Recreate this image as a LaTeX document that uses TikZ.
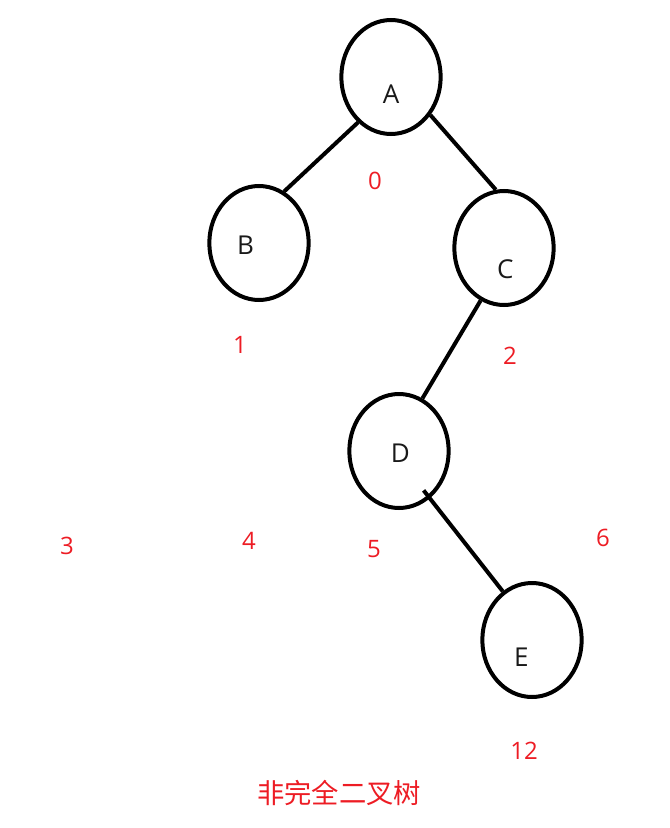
\documentclass[tikz,border=0pt]{standalone}
\usepackage{fontspec}
\setmainfont{Open Sans}
\newfontfamily\cjkfont{Noto Sans CJK SC}
\usepackage{xcolor}
\usepackage{tikz}
\usetikzlibrary{shapes.geometric, calc}
\definecolor{idxred}{RGB}{237,28,36}

\begin{document}
\begin{tikzpicture}[
  x=0.75pt, y=-0.75pt,
  treenode/.style={draw=black, ellipse, line width=3pt, minimum width=74.5pt,
                   minimum height=85.5pt, inner sep=0pt},
  letter/.style={font=\fontsize{19.5}{19.5}\selectfont, text=black!90},
  idx/.style={font=\fontsize{18}{18}\selectfont, text=idxred},
  edge/.style={line width=3pt, black}
]
  \useasboundingbox (0,0) rectangle (669,828);

  % --- Tree nodes ---
  \node[treenode, label={[letter, shift={(0pt,-13pt)}]center:A}] (A) at (391,77) {};
  \node[treenode, label={[letter, shift={(-10pt,-2pt)}]center:B}] (B) at (259,243) {};
  \node[treenode, label={[letter, shift={(1pt,-16pt)}]center:C}] (C) at (504,248) {};
  \node[treenode, label={[letter, shift={(1pt,-2pt)}]center:D}] (D) at (399,451) {};
  \node[treenode, label={[letter, shift={(-8pt,-13pt)}]center:E}] (E) at (532,640) {};

  % --- Edges ---
  \draw[edge] (A.234) -- (B.64);
  \draw[edge] (A.316) -- (C.98);
  \draw[edge] (C.246) -- (D.66);
  \draw[edge] ($(D.center)!0.82!(D.302)$) -- (E.121);

  % --- Array indices ---
  \node[idx] (i0)  at (375,181) {0};
  \node[idx] (i1)  at (240,345) {1};
  \node[idx] (i2)  at (510,356) {2};
  \node[idx] (i3)  at (67,546)  {3};
  \node[idx] (i4)  at (249,541) {4};
  \node[idx] (i5)  at (374,549) {5};
  \node[idx] (i6)  at (603,538) {6};
  \node[idx] (i12) at (524,751) {12};

  % --- Caption ---
  \node[idx, font=\cjkfont\fontsize{20.5}{20.5}\selectfont] (cap) at (339,793) {非完全二叉树};
\end{tikzpicture}
\end{document}
